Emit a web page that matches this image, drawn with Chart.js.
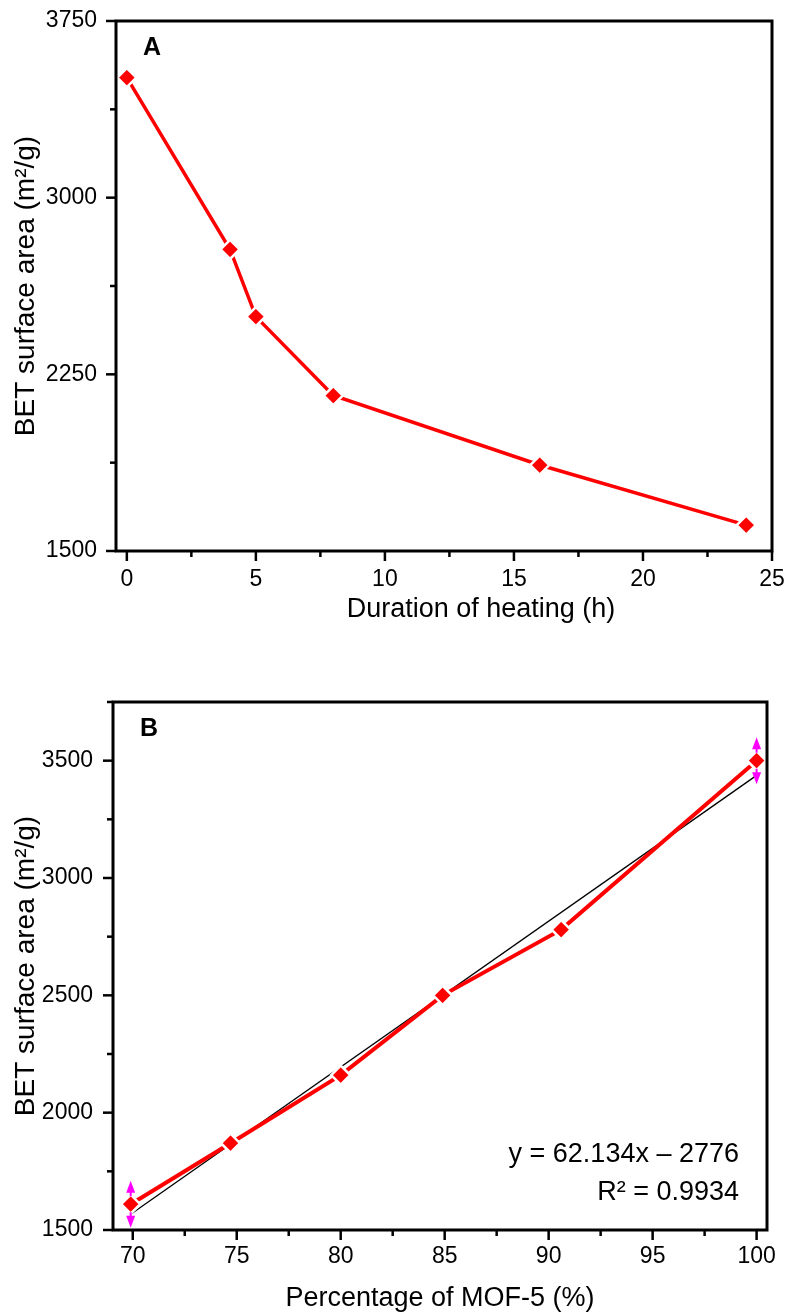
<!DOCTYPE html>
<html>
<head>
<meta charset="utf-8">
<title>BET surface area</title>
<script src="https://cdn.jsdelivr.net/npm/chart.js@4.4.1/dist/chart.umd.min.js"></script>
<style>
  html, body { margin: 0; padding: 0; background: #fff; }
  .panel { position: absolute; left: 0; width: 786px; }
  #panelA { top: 0; height: 640px; }
  #panelB { top: 650px; height: 665px; }
</style>
</head>
<body>
<div class="panel" id="panelA"><canvas id="chartA"></canvas></div>
<div class="panel" id="panelB"><canvas id="chartB"></canvas></div>
<script>
// A: surface area vs. heating time
const heatHours = [0, 4, 5, 8, 16, 24];
const betByHours = [3510, 2780, 2495, 2160, 1865, 1610];
const ticksAx = [0, 5, 10, 15, 20, 25];
const ticksAy = [1500, 2250, 3000, 3750];

// B: surface area vs. MOF-5 content, with linear fit
const mofPercent = [69.9, 74.7, 80, 84.9, 90.6, 100];
const betByPercent = [1610, 1870, 2160, 2500, 2780, 3500];
const errPercent = [100, null, null, null, null, 100];
const fitSlope = 62.134;
const fitIntercept = -2776;
const fitRange = [69.9, 100];
const fitLines = ['y = 62.134x \u2013 2776', 'R\u00b2 = 0.9934'];
const ticksBx = [70, 75, 80, 85, 90, 95, 100];
const ticksBy = [1500, 2000, 2500, 3000, 3500];

const FONT = "'Liberation Sans', Arial, sans-serif";
Chart.defaults.font.family = FONT;
Chart.defaults.color = '#000';

// frame around the plot plus outward major/minor ticks
const axesBox = {
  id: 'axesBox',
  afterDatasetsDraw(chart) {
    const { ctx, chartArea: a, scales } = chart;
    ctx.save();
    ctx.strokeStyle = '#000';
    ctx.lineWidth = 2.5;
    ['x', 'y'].forEach(id => {
      const s = scales[id];
      const vals = s.ticks.map(t => t.value);
      const step = vals[1] - vals[0];
      const minors = [];
      vals.forEach(v => {
        [v - step / 2, v + step / 2].forEach(m => {
          if (m >= s.min - 1e-6 && m <= s.max + 1e-6 && !minors.some(q => Math.abs(q - m) < 1e-6)) minors.push(m);
        });
      });
      const mark = (v, len) => {
        const p = s.getPixelForValue(v);
        ctx.beginPath();
        if (id === 'x') { ctx.moveTo(p, a.bottom); ctx.lineTo(p, a.bottom + len); }
        else { ctx.moveTo(a.left, p); ctx.lineTo(a.left - len, p); }
        ctx.stroke();
      };
      vals.forEach(v => mark(v, 10));
      minors.forEach(v => mark(v, 6));
    });
    ctx.lineWidth = 3;
    ctx.strokeRect(a.left, a.top, a.right - a.left, a.bottom - a.top);
    ctx.restore();
  }
};

// panel letters, off-centre axis title and fit equation
const panelText = {
  id: 'panelText',
  afterDraw(chart, args, opts) {
    const { ctx, chartArea: a } = chart;
    ctx.save();
    ctx.fillStyle = '#000';
    ctx.textBaseline = 'alphabetic';
    ctx.font = 'bold 25px ' + FONT;
    ctx.textAlign = 'left';
    ctx.fillText(opts.letter, a.left + 27, a.top + 34);
    if (opts.xTitle) {
      ctx.font = '27px ' + FONT;
      ctx.textAlign = 'center';
      ctx.fillText(opts.xTitle, (a.left + a.right) / 2 + 37, a.bottom + 66);
    }
    if (opts.lines) {
      ctx.font = '27px ' + FONT;
      ctx.textAlign = 'right';
      opts.lines.forEach((t, i) => ctx.fillText(t, a.right - 28, a.bottom - 68 + i * 38));
    }
    ctx.restore();
  }
};

// magenta double arrows on the end points of B, stems stop at the marker
const errArrows = {
  id: 'errArrows',
  afterDatasetsDraw(chart) {
    const { ctx, scales: { x, y } } = chart;
    ctx.save();
    ctx.strokeStyle = ctx.fillStyle = '#ff00ff';
    ctx.lineWidth = 2;
    mofPercent.forEach((p, i) => {
      const e = errPercent[i];
      if (e == null) return;
      const px = x.getPixelForValue(p);
      const mid = y.getPixelForValue(betByPercent[i]);
      const top = y.getPixelForValue(betByPercent[i] + e);
      const bot = y.getPixelForValue(betByPercent[i] - e);
      ctx.beginPath();
      ctx.moveTo(px, top + 4); ctx.lineTo(px, mid - 8);
      ctx.moveTo(px, mid + 8); ctx.lineTo(px, bot - 4);
      ctx.stroke();
      ctx.beginPath();
      ctx.moveTo(px, top); ctx.lineTo(px - 4.5, top + 12); ctx.lineTo(px + 4.5, top + 12); ctx.closePath();
      ctx.moveTo(px, bot); ctx.lineTo(px - 4.5, bot - 12); ctx.lineTo(px + 4.5, bot - 12); ctx.closePath();
      ctx.fill();
    });
    ctx.restore();
  }
};

const titleFont = { size: 27, family: FONT };
const tickFont = { size: 23, family: FONT };

function makeScales(o) {
  return {
    x: {
      type: 'linear', min: o.xMin, max: o.xMax,
      grid: { display: false, drawTicks: false }, border: { display: false },
      afterBuildTicks: s => { s.ticks = o.xTicks.map(v => ({ value: v })); },
      ticks: { font: tickFont, padding: o.xPad, maxRotation: 0, autoSkip: false, callback: v => String(v) },
      title: { display: !!o.xTitle, text: o.xTitle || '', font: titleFont, padding: { top: 0, bottom: o.xTitlePad } },
      afterFit: s => { s.height = o.xHeight; s.paddingLeft = 0; s.paddingRight = 0; }
    },
    y: {
      type: 'linear', min: 1500, max: 3750,
      grid: { display: false, drawTicks: false }, border: { display: false },
      afterBuildTicks: s => { s.ticks = o.yTicks.map(v => ({ value: v })); },
      ticks: { font: tickFont, padding: o.yPad, autoSkip: false, callback: v => String(v) },
      title: { display: true, text: 'BET surface area (m\u00b2/g)', font: { size: 28, family: FONT }, padding: { top: 9, bottom: 0 } },
      afterFit: s => { s.width = o.yWidth; s.paddingTop = 0; s.paddingBottom = 0; }
    }
  };
}

const pointStyle = {
  pointStyle: 'rectRot', pointRadius: 9.5, pointBackgroundColor: '#ff0000',
  pointBorderColor: '#ffffff', pointBorderWidth: 2.5, tension: 0
};

new Chart(document.getElementById('chartA'), {
  type: 'line',
  data: {
    datasets: [{
      data: heatHours.map((h, i) => ({ x: h, y: betByHours[i] })),
      borderColor: '#ff0000', borderWidth: 3.5, ...pointStyle
    }]
  },
  options: {
    responsive: true, maintainAspectRatio: false, animation: false,
    layout: { padding: { top: 21, right: 14, left: 0, bottom: 0 } },
    plugins: {
      legend: { display: false }, tooltip: { enabled: false },
      panelText: { letter: 'A', xTitle: 'Duration of heating (h)' }
    },
    scales: makeScales({
      xMin: -0.42, xMax: 25, xTicks: ticksAx, xPad: 15, xHeight: 89,
      yTicks: ticksAy, yPad: 19, yWidth: 116
    })
  },
  plugins: [axesBox, panelText]
});

new Chart(document.getElementById('chartB'), {
  type: 'line',
  data: {
    datasets: [{
      data: mofPercent.map((p, i) => ({ x: p, y: betByPercent[i] })),
      borderColor: '#ff0000', borderWidth: 4, order: 0, ...pointStyle
    }, {
      data: fitRange.map(p => ({ x: p, y: fitSlope * p + fitIntercept })),
      borderColor: '#000', borderWidth: 1.3, pointRadius: 0, order: 1
    }]
  },
  options: {
    responsive: true, maintainAspectRatio: false, animation: false,
    layout: { padding: { top: 52, right: 19, left: 0, bottom: 0 } },
    plugins: { legend: { display: false }, tooltip: { enabled: false }, panelText: { letter: 'B', lines: fitLines } },
    scales: makeScales({
      xMin: 69.05, xMax: 100.5, xTicks: ticksBx, xTitle: 'Percentage of MOF-5 (%)', xPad: 13, xTitlePad: 0, xHeight: 85,
      yTicks: ticksBy, yPad: 20, yWidth: 113
    })
  },
  plugins: [axesBox, panelText, errArrows]
});
</script>
</body>
</html>
